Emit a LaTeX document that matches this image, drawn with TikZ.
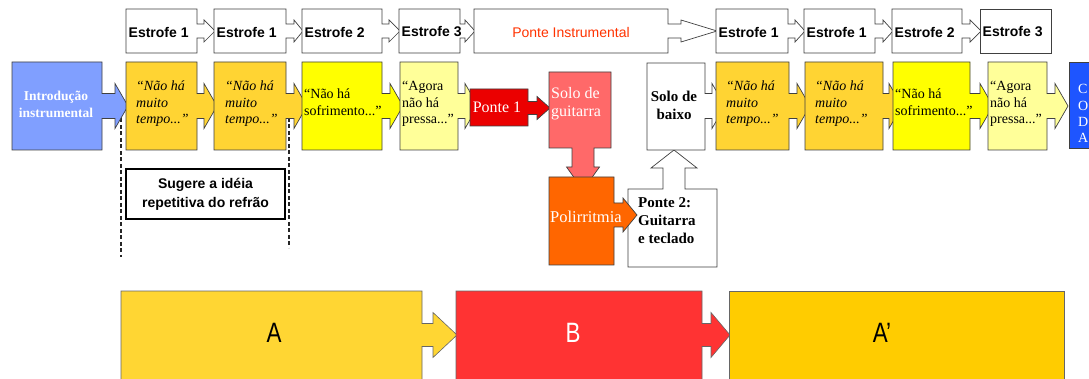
\documentclass[tikz,border=0pt]{standalone}
\usepackage{fontspec}
\usepackage{graphicx}
\setmainfont{Liberation Serif}
\setsansfont{Liberation Sans}
\definecolor{introblue}{RGB}{128,159,255}
\definecolor{gold}{RGB}{255,212,51}
\definecolor{yel}{RGB}{255,255,0}
\definecolor{lyel}{RGB}{255,255,153}
\definecolor{pred}{RGB}{235,0,0}
\definecolor{salmon}{RGB}{255,105,105}
\definecolor{oran}{RGB}{255,102,0}
\definecolor{codablue}{RGB}{30,85,255}
\definecolor{boxA}{RGB}{255,214,51}
\definecolor{boxB}{RGB}{255,51,51}
\definecolor{boxAp}{RGB}{255,204,0}
\definecolor{pitext}{RGB}{255,51,0}
% right arrow callout: style, x0, y0, x1, y1, stem end, tip, centre y  (uses \sh, \hh)
\newcommand{\rcall}[8]{%
  \path[#1] (#2,#3) -- (#4,#3) -- (#4,#8-\sh) -- (#6,#8-\sh) -- (#6,#8-\hh) -- (#7,#8)
    -- (#6,#8+\hh) -- (#6,#8+\sh) -- (#4,#8+\sh) -- (#4,#5) -- (#2,#5) -- cycle;}
% down arrow callout: style, x0, y0, x1, y1, stem end y, tip y, centre x (uses \sw, \hw)
\newcommand{\dcall}[8]{%
  \path[#1] (#2,#3) -- (#4,#3) -- (#4,#5) -- (#8+\sw,#5) -- (#8+\sw,#6) -- (#8+\hw,#6) -- (#8,#7)
    -- (#8-\hw,#6) -- (#8-\sw,#6) -- (#8-\sw,#5) -- (#2,#5) -- cycle;}
% up arrow callout: style, x0, y0, x1, y1, stem end y, tip y, centre x (uses \sw, \hw)
\newcommand{\ucall}[8]{%
  \path[#1] (#2,#3) -- (#8-\sw,#3) -- (#8-\sw,#6) -- (#8-\hw,#6) -- (#8,#7) -- (#8+\hw,#6)
    -- (#8+\sw,#6) -- (#8+\sw,#3) -- (#4,#3) -- (#4,#5) -- (#2,#5) -- cycle;}
\tikzset{
  bx/.style={draw=black!75, line width=0.7pt, line join=miter},
  est/.style={font=\sffamily\bfseries\fontsize{14}{16}\selectfont, anchor=west, inner sep=0pt},
  qt/.style={font=\fontsize{14}{16.5}\selectfont, align=left, anchor=west, inner sep=0pt},
  qti/.style={qt, font=\itshape\fontsize{14}{16.5}\selectfont},
  wt/.style={text=white, font=\fontsize{16}{18}\selectfont, inner sep=0pt},
  bk/.style={font=\bfseries\fontsize{15}{18}\selectfont, inner sep=0pt},
  big/.style={font=\sffamily\fontsize{28}{30}\selectfont, inner sep=0pt},
  coda/.style={text=white, font=\fontsize{14}{16}\selectfont, anchor=west, inner sep=0pt},
  guide/.style={draw=black!85, line width=1.3pt, dash pattern=on 4pt off 2.5pt}
}
\begin{document}
\begin{tikzpicture}[x=1pt,y=-1pt]
\useasboundingbox (0,0) rectangle (1089,379);
\clip (0,0) rectangle (1089,379);
\fill[white] (0,0) rectangle (1089,379);

% ---------- top row ----------
\def\sh{7}\def\hh{11}
\rcall{bx,fill=white}{126}{9}{197}{53}{204}{215}{31}
\rcall{bx,fill=white}{214}{9}{286}{53}{294}{303}{31}
\rcall{bx,fill=white}{302}{9}{382}{53}{389}{400}{31}
\rcall{bx,fill=white}{399}{9}{460}{53}{465}{475}{31}
\rcall{bx,fill=white}{474}{9}{668}{53}{681}{717}{31}
\rcall{bx,fill=white}{716}{9}{788}{53}{795}{805}{31}
\rcall{bx,fill=white}{804}{9}{875}{53}{883}{893}{31}
\rcall{bx,fill=white}{892}{9}{962}{53}{970}{981}{31}
\path[bx,fill=white] (980,9) rectangle (1051,53);
\node[est] (e1) at (128.5,32) {Estrofe 1};
\node[est] (e1b) at (216.5,32) {Estrofe 1};
\node[est] (e2) at (304.5,32) {Estrofe 2};
\node[est] (e3) at (401.5,32) {Estrofe 3};
\node[font=\sffamily\fontsize{14}{16}\selectfont, text=pitext, inner sep=0pt] (pi) at (571,32) {Ponte Instrumental};
\node[est] (e1c) at (718.5,32) {Estrofe 1};
\node[est] (e1d) at (806.5,32) {Estrofe 1};
\node[est] (e2b) at (894.5,32) {Estrofe 2};
\node[est] (e3b) at (982.5,32) {Estrofe 3};

% ---------- guides ----------
\coordinate (g1a) at (121,112);
\coordinate (g1b) at (121,257);
\coordinate (g2a) at (289,105);
\coordinate (g2b) at (289,248);
\draw[guide] (g1a) -- (g1b);
\draw[guide] (g2a) -- (g2b);

% ---------- second row ----------
\def\sh{12.5}\def\hh{22.5}
\rcall{bx,fill=introblue}{12}{62}{102}{150}{115}{128}{106}
\rcall{bx,fill=gold}{126}{62}{197}{150}{204}{217}{106}
\rcall{bx,fill=gold}{214}{62}{286}{150}{294}{307}{106}
\rcall{bx,fill=yel}{302}{62}{382}{150}{390}{403}{106}
\rcall{bx,fill=lyel}{400}{62}{458}{150}{465}{478}{106}
{\def\sh{6.5}\def\hh{11.5}
\rcall{bx,fill=pred}{470}{89}{528}{126}{537}{550}{108}}
{\def\sw{11}\def\hw{16.5}
\dcall{bx,fill=salmon}{549}{72}{611}{148}{167}{190}{583}}
{\def\sw{11}\def\hw{23}
\ucall{bx,fill=white}{628}{189}{717}{267}{168}{150}{674}}
{\def\sh{12}\def\hh{17}
\rcall{bx,fill=oran}{549}{177}{614}{265}{623}{637}{215}}
\rcall{bx,fill=white}{647}{63}{705}{150}{712}{725}{106}
\rcall{bx,fill=gold}{716}{62}{789}{150}{797}{810}{106}
\rcall{bx,fill=gold}{805}{62}{883}{150}{889}{902}{106}
\rcall{bx,fill=yel}{893}{62}{970}{150}{980}{993}{106}
\rcall{bx,fill=lyel}{988}{62}{1047}{150}{1055}{1068}{106}
\path[bx,fill=codablue] (1069,62) rectangle (1100,148);

\node[text=white, font=\bfseries\fontsize{13.5}{17}\selectfont, align=center, inner sep=0pt] (intro) at (56,104) {Introdução\\instrumental};
\node[qti] (q1) at (136,104) {“Não há\\muito\\tempo...”};
\node[qti] (q2) at (225,104) {“Não há\\muito\\tempo...”};
\node[qt] (q3) at (304,102) {“Não há\\sofrimento...”};
\node[qt] (q4) at (402,104) {“Agora\\não há\\pressa...”};
\node[wt] (p1) at (497,107) {Ponte 1};
\node[wt, anchor=west, align=left] (sg) at (551,104) {Solo de\\guitarra};
\node[wt, anchor=west, font=\fontsize{16.5}{18}\selectfont] (poli) at (550,217) {Polirritmia};
\node[bk, align=center] (sb) at (674,105) {Solo de\\baixo};
\node[bk, anchor=west, align=left] (p2) at (638,221) {Ponte 2:\\Guitarra\\e teclado};
\node[qti] (q5) at (726,104) {“Não há\\muito\\tempo...”};
\node[qti] (q6) at (815,104) {“Não há\\muito\\tempo...”};
\node[qt] (q7) at (895,102) {“Não há\\sofrimento...”};
\node[qt] (q8) at (990,104) {“Agora\\não há\\pressa...”};
\node[coda] (c1) at (1078,89) {C};
\node[coda] (c2) at (1078,106) {O};
\node[coda] (c3) at (1078,122) {D};
\node[coda] (c4) at (1078,138) {A};

% ---------- note box ----------
\node[draw=black, line width=1.3pt, fill=white, minimum width=159pt, minimum height=50pt,
      inner sep=0pt, align=center, font=\sffamily\bfseries\fontsize{14}{19}\selectfont] (note) at (205.5,194) {Sugere a idéia\\repetitiva do refrão};

% ---------- bottom row ----------
\def\sh{11.5}\def\hh{22.5}
\rcall{draw=black!60, line width=0.6pt, fill=boxA}{121}{291}{422}{395}{433}{457}{335}
\rcall{draw=black!60, line width=0.6pt, fill=boxB}{456}{291}{702}{395}{711}{730}{335}
\path[draw=black!60, line width=0.6pt, fill=boxAp] (729,291) rectangle (1064,395);
\node[big] (ta) at (274,333) {\scalebox{0.8}[1]{A}};
\node[big, text=white] (tb) at (573,333) {\scalebox{0.8}[1]{B}};
\node[big] (tap) at (882,333) {\scalebox{0.8}[1]{A’}};
\end{tikzpicture}
\end{document}
